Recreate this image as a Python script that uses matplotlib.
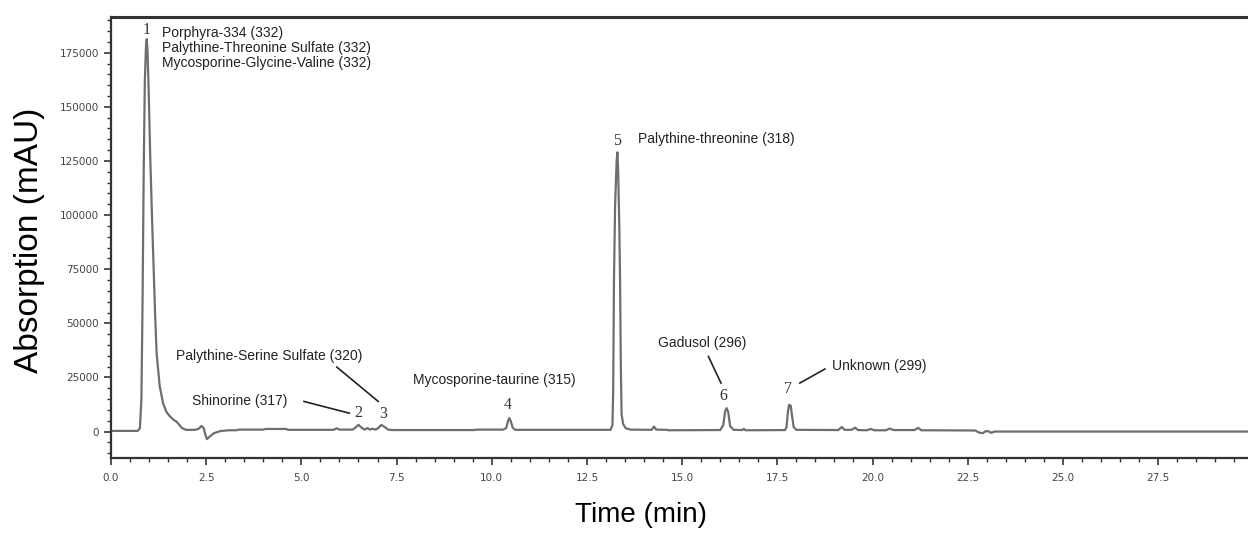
import matplotlib
matplotlib.use("Agg")
import matplotlib.pyplot as plt
from matplotlib.ticker import MultipleLocator, FormatStrFormatter

# retention time (min) and detector signal (mAU) of the chromatogram trace
time_min = [
    0.00, 0.70, 0.76, 0.80, 0.83, 0.86, 0.89, 0.92, 0.94, 0.96, 0.99, 1.03,
    1.08, 1.12, 1.16, 1.20, 1.28, 1.37, 1.46, 1.55, 1.64, 1.72, 1.80, 1.86,
    1.97, 2.20, 2.30, 2.38, 2.44, 2.48, 2.52, 2.58, 2.70, 2.86, 3.10, 3.30,
    3.35, 4.00, 4.05, 4.60, 4.65, 5.85, 5.93, 6.00, 6.35, 6.43, 6.50, 6.58,
    6.66, 6.74, 6.80, 6.86, 6.95, 7.03, 7.10, 7.18, 7.28, 7.40, 9.55, 9.58,
    10.30, 10.38, 10.43, 10.46, 10.50, 10.55, 10.62, 13.12, 13.17, 13.19, 13.21, 13.24,
    13.28, 13.30, 13.32, 13.35, 13.37, 13.39, 13.41, 13.45, 13.52, 13.65, 14.20, 14.26,
    14.32, 14.60, 14.63, 16.00, 16.08, 16.13, 16.17, 16.21, 16.26, 16.35, 16.58, 16.62,
    16.66, 17.70, 17.74, 17.78, 17.81, 17.83, 17.85, 17.88, 17.93, 18.00, 19.10, 19.19,
    19.27, 19.45, 19.54, 19.62, 19.85, 19.95, 20.05, 20.35, 20.45, 20.55, 21.10, 21.20,
    21.28, 22.70, 22.80, 22.90, 22.97, 23.05, 23.12, 23.20, 29.90,
]
signal_mau = [
    300, 300, 1500, 15000, 60000, 120000, 162000, 178000, 181300, 176000, 158000, 128000,
    98000, 76000, 54000, 36000, 21000, 13000, 9000, 7000, 5500, 4600, 3000, 1700,
    800, 800, 1200, 2600, 1500, -1500, -3500, -2500, -800, 200, 600, 600,
    900, 900, 1200, 1200, 800, 800, 1500, 900, 900, 2000, 3100, 1800,
    900, 1600, 900, 1300, 900, 1800, 3100, 2200, 900, 700, 700, 900,
    900, 1600, 5000, 6200, 4800, 1800, 800, 800, 3000, 20000, 70000, 105000,
    125000, 129000, 120000, 95000, 70000, 30000, 8000, 3500, 1500, 900, 800, 2300,
    900, 800, 600, 700, 3000, 9500, 10800, 9000, 2500, 800, 700, 1300,
    600, 700, 2000, 9500, 12400, 11500, 12000, 8000, 2000, 800, 700, 2100,
    800, 800, 1800, 700, 600, 1200, 600, 600, 1400, 700, 700, 1700,
    600, 500, -500, -700, 200, 100, -600, 0, 0,
]

# peak numbers: label, time, height
peak_ids = ["1", "2", "3", "4", "5", "6", "7"]
peak_id_x = [0.95, 6.49, 7.15, 10.41, 13.28, 16.08, 17.79]
peak_id_y = [185500, 8500, 8100, 12400, 134300, 16500, 19600]

# compound names with the spot they are written at
compound_names = [
    "Porphyra-334 (332)\nPalythine-Threonine Sulfate (332)\nMycosporine-Glycine-Valine (332)",
    "Palythine-Serine Sulfate (320)",
    "Shinorine (317)",
    "Mycosporine-taurine (315)",
    "Palythine-threonine (318)",
    "Gadusol (296)",
    "Unknown (299)",
]
name_x = [1.34, 1.71, 2.12, 7.94, 13.85, 14.36, 18.93]
name_y = [187500, 35000, 14200, 23900, 135000, 40900, 30100]

# leader lines from a name to its peak
leader_x = [(5.07, 6.26), (5.93, 7.02), (15.69, 16.02), (18.09, 18.75)]
leader_y = [(13900, 8500), (29800, 13900), (34700, 22400), (22400, 28900)]

fig = plt.figure(figsize=(12.48, 5.4), dpi=100)
ax = fig.add_axes([0.0889, 0.1519, 0.9111, 0.8166])

ax.plot(time_min, signal_mau, color="#6e6e6e", lw=1.6, solid_joinstyle="round")

for lab, x, y in zip(peak_ids, peak_id_x, peak_id_y):
    ax.text(x, y, lab, ha="center", va="center", fontsize=11.5,
            family="Liberation Serif", color="#333333")

for i, (txt, x, y) in enumerate(zip(compound_names, name_x, name_y)):
    va = "top" if i == 0 else "center"
    ax.text(x, y, txt, ha="left", va=va, fontsize=10, family="Liberation Sans",
            color="#222222", linespacing=1.12)

for xs, ys in zip(leader_x, leader_y):
    ax.plot(xs, ys, color="#222222", lw=1.2)

ax.set_xlim(0, 29.86)
ax.set_ylim(-12200, 191500)

ax.xaxis.set_major_locator(MultipleLocator(2.5))
ax.xaxis.set_minor_locator(MultipleLocator(0.5))
ax.xaxis.set_major_formatter(FormatStrFormatter("%.1f"))
ax.yaxis.set_major_locator(MultipleLocator(25000))
ax.yaxis.set_minor_locator(MultipleLocator(5000))
ax.yaxis.set_major_formatter(FormatStrFormatter("%d"))

ax.tick_params(which="major", direction="out", length=5, width=1.2, color="#333333",
               labelsize=7.5, labelcolor="#444444")
ax.tick_params(which="minor", direction="out", length=3, width=1.0, color="#333333")
ax.tick_params(axis="x", pad=6)

ax.spines["right"].set_visible(False)
for side in ["left", "bottom", "top"]:
    ax.spines[side].set_color("#333333")
    ax.spines[side].set_linewidth(1.6)
ax.spines["top"].set_linewidth(2.2)

ax.set_xlabel("Time (min)", fontsize=20, family="Liberation Sans")
ax.set_ylabel("Absorption (mAU)", fontsize=24, family="Liberation Sans")
ax.xaxis.set_label_coords(0.466, -0.129)
ax.xaxis.label.set_va("center")
ax.yaxis.set_label_coords(-0.0712, 0.494)
ax.yaxis.label.set_va("center")

fig.savefig("out.png", dpi=100)
